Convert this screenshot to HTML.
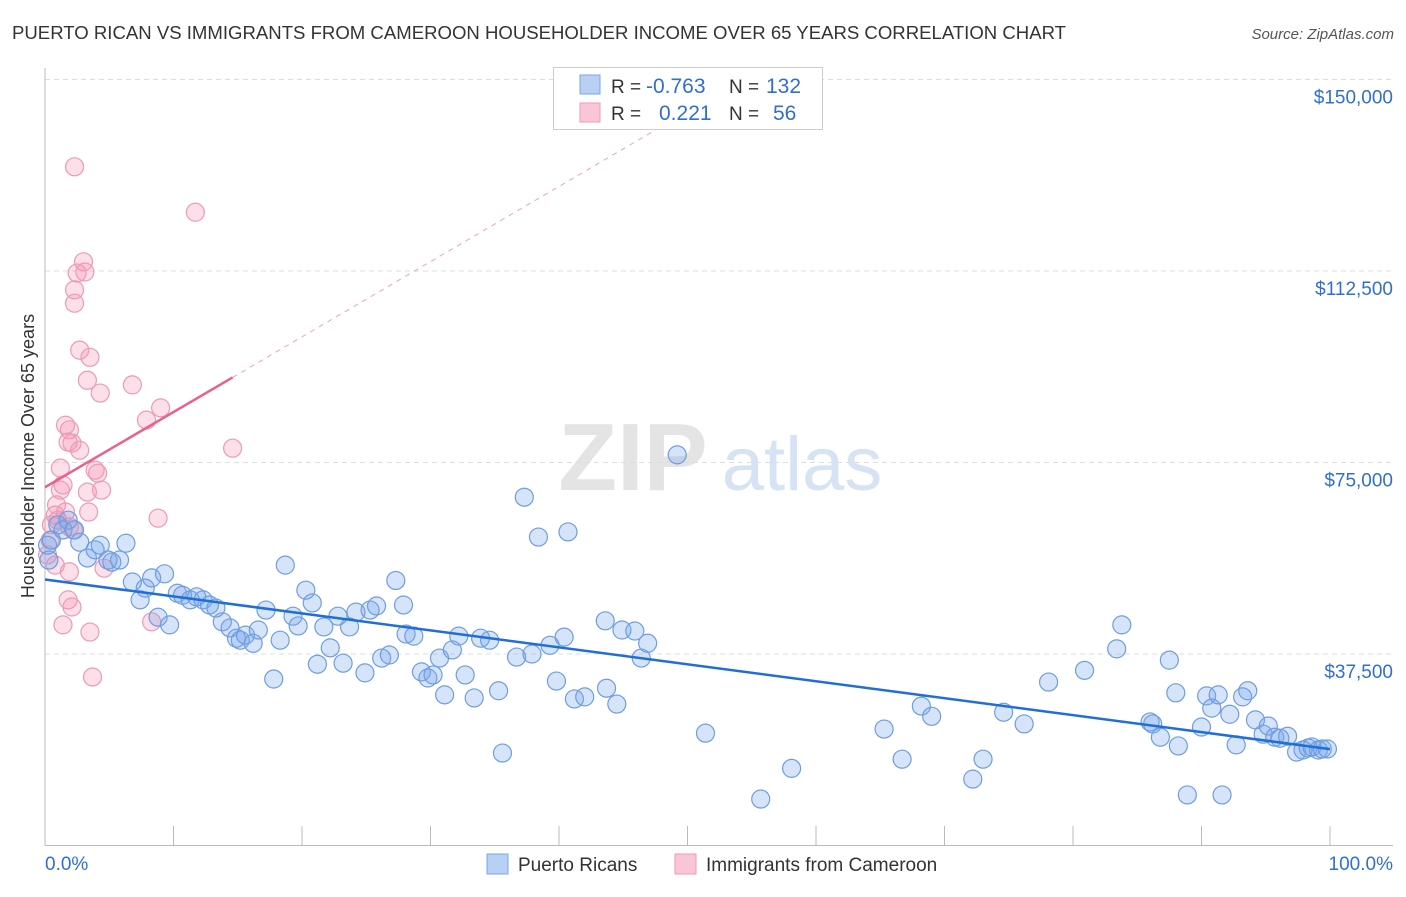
<!DOCTYPE html>
<html><head><meta charset="utf-8"><style>
body{margin:0;background:#fff;font-family:"Liberation Sans",sans-serif;}
svg text{font-family:"Liberation Sans",sans-serif;}
</style></head><body>
<svg id="chart" width="1406" height="892" xmlns="http://www.w3.org/2000/svg">
<text x="12" y="39" font-size="18" fill="#333" textLength="1054" lengthAdjust="spacingAndGlyphs">PUERTO RICAN VS IMMIGRANTS FROM CAMEROON HOUSEHOLDER INCOME OVER 65 YEARS CORRELATION CHART</text>
<text x="1394" y="39" font-size="15" fill="#555" font-style="italic" text-anchor="end">Source: ZipAtlas.com</text>
<g>
<text x="633" y="490" font-size="96" fill="#e4e4e4" font-family="Liberation Serif" text-anchor="middle" font-weight="bold">ZIP</text>
<text x="802" y="490" font-size="76" fill="#d6e3f5" text-anchor="middle">atlas</text>
</g>
<g id="grid"></g>
<g id="axes"></g>
<g id="marks"></g>
<g>
<rect x="553.5" y="67.5" width="269" height="62" fill="#fff" stroke="#ccc"/>
<rect x="580" y="75" width="20" height="19" fill="#b8d0f4" stroke="#7aa5e6"/>
<text x="611" y="93" font-size="19" fill="#333">R = </text>
<text x="646" y="93" font-size="21" fill="#2f6fd0">-0.763</text>
<text x="729" y="93" font-size="19" fill="#333">N = </text>
<text x="766" y="93" font-size="21" fill="#2f6fd0">132</text>
<rect x="580" y="103" width="20" height="19" fill="#f9c6d6" stroke="#ee9ab5"/>
<text x="611" y="120" font-size="19" fill="#333">R = </text>
<text x="659" y="120" font-size="21" fill="#2f6fd0">0.221</text>
<text x="729" y="120" font-size="19" fill="#333">N = </text>
<text x="773" y="120" font-size="21" fill="#2f6fd0">56</text>
</g>
<g>
<rect x="487" y="854" width="21" height="20" fill="#b8d0f4" stroke="#7aa5e6"/>
<text x="518" y="871" font-size="19" fill="#333">Puerto Ricans</text>
<rect x="675" y="854" width="21" height="20" fill="#f9c6d6" stroke="#ee9ab5"/>
<text x="706" y="871" font-size="19" fill="#333">Immigrants from Cameroon</text>
</g>
</svg>
<script>
const yTicks=[37500,75000,112500,150000];
const yTickLabels=["$37,500","$75,000","$112,500","$150,000"];
const xTickLabels=["0.0%","100.0%"];
const bluePct=[0.2,0.5,1.0,1.4,1.8,2.3,2.7,3.3,3.9,4.3,4.9,5.2,5.8,6.3,6.8,7.4,7.8,8.3,8.8,9.3,9.7,10.3,10.7,11.3,11.8,12.3,12.8,13.3,13.8,14.4,14.9,15.2,15.6,16.2,16.6,17.2,17.8,18.3,18.7,19.3,19.7,20.3,20.8,21.2,21.7,22.2,22.8,23.2,23.7,24.2,24.9,25.3,25.8,26.2,26.8,27.3,27.9,28.1,28.7,29.3,29.8,30.2,30.7,31.1,31.7,32.2,32.7,33.4,33.9,34.6,35.3,35.6,36.7,37.3,37.9,38.4,39.3,39.8,40.4,40.7,41.2,42.0,43.7,43.6,44.5,44.9,45.9,46.4,46.9,49.2,51.4,55.7,58.1,65.3,66.7,68.2,69.0,72.2,73.0,74.6,76.2,78.1,80.9,83.4,83.8,86.0,86.2,86.8,87.5,88.0,88.2,88.9,90.0,90.4,90.8,91.3,91.6,92.2,92.7,93.2,93.6,94.2,94.8,95.2,95.7,96.1,96.7,97.4,97.9,98.3,98.6,99.1,99.4,99.8,0.3];
const blueIncome=[58.8,59.8,62.8,61.8,63.7,61.8,59.4,56.3,57.9,58.8,55.9,55.5,55.9,59.2,51.6,48.1,50.4,52.4,44.7,53.2,43.2,49.4,49.0,48.1,48.7,48.1,47.1,46.5,43.8,42.6,40.6,40.2,41.2,39.6,42.2,46.1,32.6,40.2,54.9,44.9,43.0,50.0,47.5,35.5,42.8,38.7,44.9,35.7,42.8,45.7,33.8,46.1,46.9,36.7,37.3,51.9,47.1,41.4,41.0,34.0,32.8,33.4,36.7,29.5,38.3,41.0,33.4,28.9,40.6,40.2,30.3,18.1,36.9,68.2,37.5,60.4,39.2,32.2,40.8,61.4,28.7,29.1,30.8,44.0,27.7,42.2,42.0,36.7,39.6,76.5,22.0,9.1,15.1,22.8,16.9,27.3,25.3,13.0,16.9,26.1,23.8,32.0,34.3,38.5,43.2,24.2,23.8,21.2,36.3,29.9,19.5,9.9,23.2,29.3,26.9,29.5,9.9,25.7,19.7,29.1,30.3,24.6,21.8,23.4,21.2,21.0,21.4,18.3,18.7,19.1,19.3,18.7,18.9,18.9,55.9];
const pinkPct=[0.2,0.4,0.5,0.8,0.9,1.0,1.2,1.2,1.4,1.6,1.6,1.8,1.8,1.9,1.9,2.1,2.1,2.2,2.3,2.3,2.3,2.5,2.7,2.7,3.0,3.1,3.3,3.3,3.4,3.5,3.5,3.7,3.9,4.1,4.3,4.4,4.6,6.8,7.9,8.3,8.8,9.0,11.7,14.6,1.4,0.8,1.9];
const pinkIncome=[56.9,59.8,62.8,64.7,66.7,63.7,69.6,73.9,70.6,82.3,65.3,79.0,48.1,53.6,81.4,46.7,78.8,61.8,106.2,132.9,108.8,112.1,77.4,97.0,114.3,112.3,69.2,91.1,65.3,41.8,95.6,33.0,73.5,72.9,88.6,69.6,54.3,90.2,83.3,43.8,64.1,85.7,124.0,77.8,43.2,54.9,62.4];

const NS="http://www.w3.org/2000/svg";
const X0=45,X1=1330,YB=845.5,PXPERK=191.5/37.5;
function xs(p){return X0+(X1-X0)*p/100;}
function ys(k){return YB-k*PXPERK;}
function mk(tag,attrs,parent){const e=document.createElementNS(NS,tag);for(const k in attrs)e.setAttribute(k,attrs[k]);parent.appendChild(e);return e;}
const grid=document.getElementById('grid'),axes=document.getElementById('axes'),marks=document.getElementById('marks');
yTicks.forEach((v,i)=>{
  const y=ys(v/1000);
  const l=mk('line',{x1:X0,x2:1393,y1:y,y2:y,stroke:'#ddd','stroke-dasharray':'5,4'},grid);
  
  
  const t=mk('text',{x:1393,y:y+24,'font-size':19,fill:'#2f6fd0','text-anchor':'end'},axes);
  t.textContent=yTickLabels[i];
  
  
});
const ax=mk('line',{x1:X0,x2:1393,y1:YB,y2:YB,stroke:'#bbb'},axes);


const ay=mk('line',{x1:X0,x2:X0,y1:68,y2:YB,stroke:'#bbb'},axes);


for(let i=1;i<=10;i++){const x=xs(i*10);const t=mk('line',{x1:x,x2:x,y1:826,y2:YB,stroke:'#bbb'},axes);
  
  }
const xl0=mk('text',{x:45,y:870,'font-size':19,fill:'#2f6fd0'},axes);xl0.textContent=xTickLabels[0];


const xl1=mk('text',{x:1393,y:870,'font-size':19,fill:'#2f6fd0','text-anchor':'end'},axes);xl1.textContent=xTickLabels[1];


const yt=mk('text',{x:0,y:0,'font-size':18,fill:'#333','text-anchor':'middle',transform:'translate(34,456) rotate(-90)'},axes);
yt.textContent='Householder Income Over 65 years';



function drawPts(px,py,fill,stroke,name){px.forEach((p,i)=>{const c=mk('circle',{cx:xs(p),cy:ys(py[i]),r:9,fill:fill,stroke:stroke,'stroke-width':1.2},marks);
  
  });}
drawPts(pinkPct,pinkIncome,'rgba(244,150,180,0.3)','#ec9ab6','cameroon-point');
drawPts(bluePct,blueIncome,'rgba(120,165,235,0.3)','#6e9de0','puerto-rican-point');

function reg(xa,ya){const n=xa.length;let sx=0,sy=0,sxx=0,sxy=0;for(let i=0;i<n;i++){sx+=xa[i];sy+=ya[i];sxx+=xa[i]*xa[i];sxy+=xa[i]*ya[i];}const b=(n*sxy-sx*sy)/(n*sxx-sx*sx);return{a:(sy-b*sx)/n,b:b};}
const rb=reg(bluePct,blueIncome);
const bl=mk('line',{x1:xs(0),y1:ys(rb.a),x2:xs(100),y2:ys(rb.a+rb.b*100),stroke:'#1f6fd6','stroke-width':2.5},marks);


const rp=reg(pinkPct,pinkIncome);
const xmax=Math.max(...pinkPct);
const pl=mk('line',{x1:xs(0),y1:ys(rp.a),x2:xs(xmax),y2:ys(rp.a+rp.b*xmax),stroke:'#e8628f','stroke-width':2.5},marks);


let xe=xmax;while(ys(rp.a+rp.b*xe)>128&&xe<100)xe+=0.1;
const pd=mk('line',{x1:xs(xmax),y1:ys(rp.a+rp.b*xmax),x2:xs(xe),y2:ys(rp.a+rp.b*xe),stroke:'#f0a0bb','stroke-width':1,'stroke-dasharray':'5,5'},marks);


</script>
</body></html>
